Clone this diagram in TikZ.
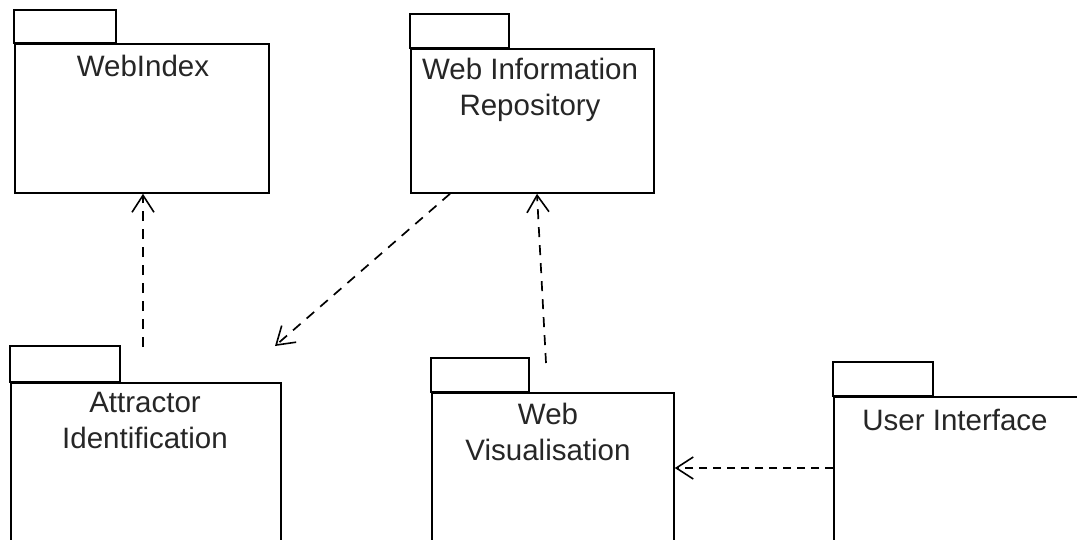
\documentclass[tikz,border=0pt]{standalone}
\usepackage{fontspec}
\setmainfont{Liberation Sans}
\usetikzlibrary{arrows.meta}
\begin{document}
\begin{tikzpicture}[x=1pt,y=-1pt,
  pkgbody/.style={draw=black,line width=1.8pt,fill=white,rectangle,inner sep=0pt,anchor=north west},
  pkgtab/.style={draw=black,line width=1.8pt},
  pkgtext/.style={anchor=north,inner sep=0pt,align=center,text=black!85,
    font=\fontsize{29.5}{35.5}\selectfont},
  dep/.style={draw=black,line width=1.7pt,dash pattern=on 10pt off 8pt,
    -{Straight Barb[length=17pt,width=22pt,line width=1.6pt]}},
  depshort/.style={dep,dash pattern=on 8pt off 6pt}]
  \useasboundingbox (0,0) rectangle (1077,539);
  \fill[white] (0,0) rectangle (1077,539);
  \clip (0,0) rectangle (1077,539);

  % package bodies
  \node[pkgbody,minimum width=254pt,minimum height=149pt] (wi) at (14,43) {};
  \node[pkgbody,minimum width=243pt,minimum height=144pt] (wir) at (410,48) {};
  \node[pkgbody,minimum width=270pt,minimum height=190pt] (ai) at (10,382) {};
  \node[pkgbody,minimum width=242pt,minimum height=180pt] (wv) at (431,392) {};
  \node[pkgbody,minimum width=270pt,minimum height=180pt] (ui) at (833,396) {};

  % package tabs
  \draw[pkgtab] (wi.north west) rectangle ++(102,-33);
  \draw[pkgtab] (wir.north west) rectangle ++(99,-34);
  \draw[pkgtab] (ai.north west) rectangle ++(110,-36);
  \draw[pkgtab] (wv.north west) rectangle ++(98,-34);
  \draw[pkgtab] (ui.north west) rectangle ++(100,-34);

  % package names
  \node[pkgtext] (wi-name) at (143,55) {WebIndex};
  \node[pkgtext] (wir-name) at (530,58) {Web Information\\Repository};
  \node[pkgtext] (ai-name) at (145,392) {Attractor\\Identification};
  \node[pkgtext] (wv-name) at (548,403) {Web\\Visualisation};
  \node[pkgtext] (ui-name) at (955,409) {User Interface};

  % dependency ends lying outside the packages
  \coordinate (ai-use) at (143,347);
  \coordinate (ai-target) at (275,346);
  \coordinate (wv-use) at (546,363);

  % dependencies
  \draw[dep] (ai-use) -- (ai-use |- wi.south);
  \draw[dep] (wir.south -| 450,0) -- (ai-target);
  \draw[dep] (wv-use) -- (wir.south -| 537,0);
  \draw[depshort] (ui.west |- 0,468) -- (wv.east |- 0,468);
\end{tikzpicture}
\end{document}
